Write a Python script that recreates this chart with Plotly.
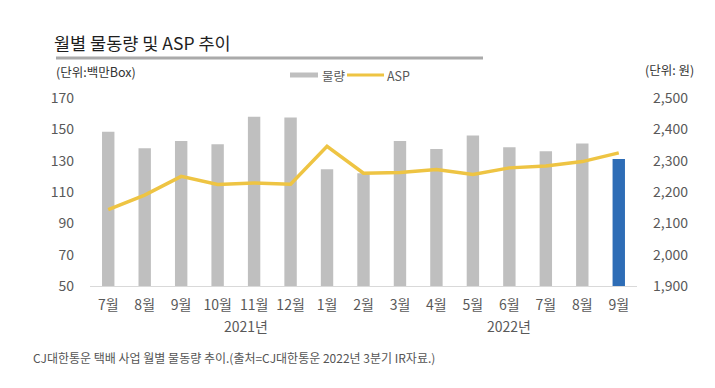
import plotly.graph_objects as go

months = ["7월", "8월", "9월", "10월", "11월", "12월", "1월", "2월", "3월", "4월", "5월", "6월", "7월", "8월", "9월"]
volume = [148.5, 138, 142.5, 140.5, 158, 157.5, 124.5, 122, 142.5, 137.5, 146, 138.5, 136, 141, 131]
asp = [2144, 2190, 2250, 2224, 2229, 2225, 2346, 2260, 2262, 2272, 2256, 2277, 2283, 2297, 2325]
years = ["2021년", "2022년"]
year_pos = [3.77, 10.98]

FONT = "Noto Sans CJK KR"
GRAY = "#BFBFBF"
BLUE = "#2E6DB6"
YELLOW = "#EEC443"
x = list(range(len(months)))
bar_colors = [GRAY] * (len(months) - 1) + [BLUE]

# page offset (body margin) compensation: positions below are given in window pixels
OFF = 8
W, H = 715 - 2 * OFF, 388 - 2 * OFF
PL, PR, PT, PB = 90, 637, 98, 286  # plot area in window pixels
L, R, T, B = PL - OFF, W - (PR - OFF), PT - OFF, H - (PB - OFF)
pw, ph = W - L - R, H - T - B


def px(xp):
    return (xp - OFF - L) / pw


def py(yp):
    return (H - B - (yp - OFF)) / ph


fig = go.Figure()
fig.add_trace(go.Bar(x=x, y=volume, name="물량", marker=dict(color=bar_colors, line=dict(width=0)),
                     width=0.34, showlegend=False))
fig.add_trace(go.Scatter(x=x, y=asp, name="ASP", yaxis="y2", mode="lines",
                         line=dict(color=YELLOW, width=3.5), showlegend=False))

for yr, p in zip(years, year_pos):
    fig.add_annotation(x=p, y=py(326), xref="x", yref="paper", text=yr, showarrow=False,
                       yanchor="middle", font=dict(family=FONT, size=14, color="#595959"))

fig.update_layout(
    width=W, height=H,
    margin=dict(l=L, r=R, t=T, b=B, autoexpand=False),
    paper_bgcolor="white", plot_bgcolor="white",
    font=dict(family=FONT, color="#595959", size=14),
    xaxis=dict(range=[-0.5, 14.5], tickvals=x, ticktext=months, showgrid=False, zeroline=False,
               showline=True, linecolor="#D9D9D9", linewidth=1, ticks="", ticklabelstandoff=6,
               tickfont=dict(size=14, color="#595959")),
    yaxis=dict(range=[50, 170], dtick=20, tick0=50, showgrid=False, zeroline=False, ticks="",
               ticklabelstandoff=15, tickfont=dict(size=14, color="#595959")),
    yaxis2=dict(range=[1900, 2500], dtick=100, tick0=1900, overlaying="y", side="right",
                showgrid=False, zeroline=False, ticks="", tickformat=",", ticklabelstandoff=15,
                tickfont=dict(size=14, color="#595959")),
    showlegend=False,
)


def label(text, xp, yp, size, color, anchor="left"):
    fig.add_annotation(text=text, x=px(xp), y=py(yp), xref="paper", yref="paper", showarrow=False,
                       xanchor=anchor, yanchor="middle", font=dict(family=FONT, size=size, color=color))


label("월별 물동량 및 ASP 추이", 52, 42, 17.5, "#1E1E1E")
label("(단위:백만Box)", 54, 71, 12.5, "#333333")
label("(단위: 원)", 643, 70, 12.5, "#333333")
label("물량", 320, 75, 12.5, "#595959")
label("ASP", 385, 75, 12.5, "#595959")
label("CJ대한통운 택배 사업 월별 물동량 추이.(출처=CJ대한통운 2022년 3분기 IR자료.)", 31, 357, 12, "#555555")

fig.add_shape(type="line", xref="paper", yref="paper", x0=px(56), x1=px(483), y0=py(58), y1=py(58),
              line=dict(color="#AAAAAA", width=3))
fig.add_shape(type="rect", xref="paper", yref="paper", x0=px(290), x1=px(318), y0=py(77.5), y1=py(72.5),
              fillcolor=GRAY, line=dict(width=0))
fig.add_shape(type="line", xref="paper", yref="paper", x0=px(347), x1=px(384), y0=py(75), y1=py(75),
              line=dict(color=YELLOW, width=3))

fig.write_html("out.html")
